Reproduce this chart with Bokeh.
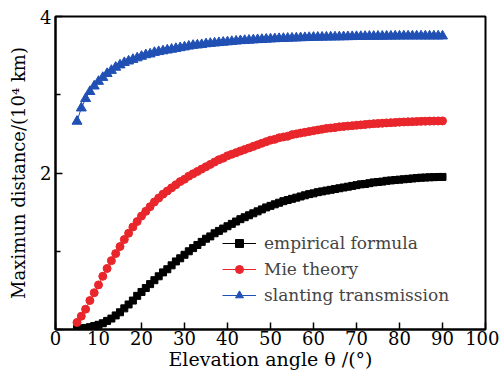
from bokeh.plotting import figure
from bokeh.models import Legend, LegendItem, FixedTicker
from bokeh.embed import file_html
from bokeh.resources import INLINE

angle = list(range(5, 91))

empirical = [0.01, 0.015, 0.02, 0.03, 0.045, 0.06, 0.08, 0.11, 0.14, 0.18,
             0.22, 0.27, 0.32, 0.37, 0.43, 0.48, 0.53, 0.58, 0.63, 0.68,
             0.73, 0.77, 0.82, 0.87, 0.91, 0.955, 1.00, 1.04, 1.08, 1.12,
             1.16, 1.19, 1.23, 1.26, 1.29, 1.32, 1.35, 1.38, 1.41, 1.435,
             1.46, 1.485, 1.51, 1.535, 1.56, 1.58, 1.60, 1.62, 1.64, 1.655,
             1.67, 1.685, 1.70, 1.715, 1.73, 1.74, 1.755, 1.765, 1.775, 1.785,
             1.795, 1.805, 1.815, 1.825, 1.835, 1.845, 1.855, 1.86, 1.87, 1.88,
             1.885, 1.89, 1.90, 1.905, 1.91, 1.915, 1.92, 1.925, 1.93, 1.935,
             1.94, 1.942, 1.945, 1.947, 1.949, 1.95]

mie = [0.09, 0.17, 0.26, 0.37, 0.47, 0.57, 0.68, 0.78, 0.88, 0.97,
       1.06, 1.15, 1.23, 1.31, 1.38, 1.45, 1.51, 1.57, 1.63, 1.68,
       1.73, 1.77, 1.81, 1.85, 1.89, 1.92, 1.96, 1.99, 2.02, 2.05,
       2.08, 2.11, 2.14, 2.17, 2.19, 2.22, 2.24, 2.26, 2.28, 2.30,
       2.32, 2.34, 2.36, 2.38, 2.40, 2.42, 2.43, 2.45, 2.46, 2.47,
       2.49, 2.50, 2.51, 2.52, 2.53, 2.54, 2.55, 2.56, 2.57, 2.575,
       2.58, 2.59, 2.595, 2.60, 2.605, 2.61, 2.615, 2.62, 2.625, 2.63,
       2.633, 2.636, 2.64, 2.643, 2.646, 2.65, 2.652, 2.654, 2.656, 2.658,
       2.66, 2.662, 2.663, 2.664, 2.665, 2.666]

slanting = [2.66, 2.83, 2.95, 3.04, 3.11, 3.17, 3.22, 3.27, 3.31, 3.35,
            3.38, 3.41, 3.43, 3.45, 3.47, 3.49, 3.51, 3.52, 3.54, 3.55,
            3.56, 3.57, 3.58, 3.59, 3.60, 3.61, 3.62, 3.63, 3.635, 3.64,
            3.65, 3.655, 3.66, 3.665, 3.67, 3.675, 3.68, 3.685, 3.69, 3.693,
            3.696, 3.70, 3.703, 3.706, 3.709, 3.712, 3.715, 3.717, 3.719, 3.721,
            3.723, 3.725, 3.727, 3.729, 3.731, 3.733, 3.734, 3.735, 3.736, 3.737,
            3.738, 3.739, 3.740, 3.741, 3.742, 3.743, 3.744, 3.745, 3.746, 3.746,
            3.747, 3.747, 3.748, 3.748, 3.749, 3.749, 3.75, 3.75, 3.75, 3.75,
            3.75, 3.75, 3.75, 3.75, 3.75, 3.75]

x_ticks = [0, 10, 20, 30, 40, 50, 60, 70, 80, 90, 100]
y_ticks = [0, 2, 4]
y_minor_ticks = [1, 3]
labels = ["empirical formula", "Mie theory", "slanting transmission"]

FONT = "DejaVu Serif"
BLACK = "#000000"
RED = "#e8262b"
BLUE = "#2150b4"

p = figure(width=499, height=372, x_range=(0, 100), y_range=(0, 4),
           output_backend="svg", toolbar_location=None,
           min_border_top=16, min_border_right=14, min_border_left=55,
           min_border_bottom=42)

p.xgrid.visible = False
p.ygrid.visible = False
p.outline_line_color = "black"
p.outline_line_width = 2
p.outline_line_alpha = 1

l1 = p.line(angle, empirical, line_color=BLACK, line_width=1)
s1 = p.scatter(angle, empirical, marker="square", size=7, fill_color=BLACK, line_color=BLACK)
l2 = p.line(angle, mie, line_color=RED, line_width=1)
s2 = p.scatter(angle, mie, marker="circle", size=8, fill_color=RED, line_color=RED)
l3 = p.line(angle, slanting, line_color=BLUE, line_width=1)
s3 = p.scatter(angle, slanting, marker="triangle", size=10, fill_color=BLUE, line_color=BLUE)

legend = Legend(items=[LegendItem(label=labels[0], renderers=[l1, s1]),
                       LegendItem(label=labels[1], renderers=[l2, s2]),
                       LegendItem(label=labels[2], renderers=[l3, s3])],
                location=(167, 24), padding=0, margin=0, spacing=6,
                glyph_width=34, glyph_height=20, label_height=20,
                label_standoff=8,
                label_text_font=FONT, label_text_font_size="17px",
                background_fill_alpha=0, border_line_alpha=0)
p.add_layout(legend)

for ax in (p.xaxis[0], p.yaxis[0]):
    ax.axis_line_width = 2
    ax.axis_line_color = "black"
    ax.major_tick_in = 7
    ax.major_tick_out = 0
    ax.major_tick_line_width = 1.5
    ax.minor_tick_in = 0
    ax.minor_tick_out = 0
    ax.major_label_text_font = FONT
    ax.major_label_text_font_size = "18px"
    ax.major_label_text_color = "black"
    ax.axis_label_text_font = FONT
    ax.axis_label_text_font_style = "normal"
    ax.axis_label_text_color = "black"

p.xaxis.ticker = FixedTicker(ticks=x_ticks)
p.xaxis.major_label_standoff = 1
p.xaxis.axis_label_standoff = 0
p.xaxis.axis_label_text_font_size = "19px"
p.xaxis.axis_label = "Elevation angle \u03b8 /(\u00b0)"

p.yaxis.ticker = FixedTicker(ticks=y_ticks, minor_ticks=y_minor_ticks)
p.yaxis.minor_tick_in = 5
p.yaxis.minor_tick_line_width = 1.5
p.yaxis.major_label_overrides = {0: ""}
p.yaxis.major_label_standoff = 4
p.yaxis.axis_label_standoff = 8
p.yaxis.axis_label_text_font_size = "18px"
p.yaxis.axis_label = "Maximun distance/(10\u2074 km)"

open("out.html", "w").write(file_html(p, INLINE))
